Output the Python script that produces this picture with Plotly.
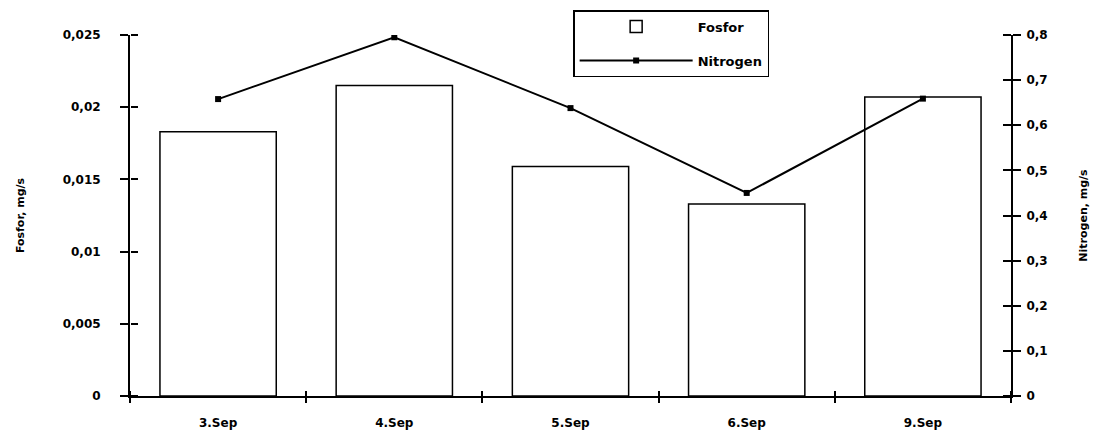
import plotly.graph_objects as go

dates = ["3.Sep", "4.Sep", "5.Sep", "6.Sep", "9.Sep"]
fosfor = [0.0183, 0.0215, 0.0159, 0.0133, 0.0207]
nitrogen = [0.658, 0.795, 0.638, 0.450, 0.659]

left_vals = [0, 0.005, 0.01, 0.015, 0.02, 0.025]
left_text = ["0", "0,005", "0,01", "0,015", "0,02", "0,025"]
right_vals = [0, 0.1, 0.2, 0.3, 0.4, 0.5, 0.6, 0.7, 0.8]
right_text = ["0", "0,1", "0,2", "0,3", "0,4", "0,5", "0,6", "0,7", "0,8"]

FONT = "DejaVu Sans"
tickfont = dict(family=FONT, size=12, color="black", weight="bold")
titlefont = dict(family=FONT, size=11, color="black", weight="bold")

fig = go.Figure()
fig.add_trace(go.Bar(
    x=dates, y=fosfor, name="Fosfor", width=0.66, legendgroup="a",
    marker=dict(color="white", line=dict(color="black", width=1.5)),
    yaxis="y",
))
fig.add_trace(go.Scatter(
    x=dates, y=nitrogen, name="Nitrogen", mode="lines+markers", legendgroup="b",
    line=dict(color="black", width=2),
    marker=dict(symbol="square", size=6, color="black"),
    yaxis="y2",
))
# invisible helper traces so the overlay axes carrying inward ticks get drawn
fig.add_trace(go.Scatter(
    x=dates, y=fosfor, xaxis="x2", yaxis="y3", mode="markers",
    marker=dict(opacity=0), showlegend=False, hoverinfo="skip",
))
fig.add_trace(go.Scatter(
    x=dates, y=nitrogen, xaxis="x2", yaxis="y4", mode="markers",
    marker=dict(opacity=0), showlegend=False, hoverinfo="skip",
))

common_y = dict(showgrid=False, zeroline=False, fixedrange=True)

fig.update_layout(
    width=1082, height=422,
    margin=dict(l=122, r=79, t=27, b=34, autoexpand=False),
    paper_bgcolor="white", plot_bgcolor="white",
    showlegend=True,
    xaxis=dict(
        type="category", range=[-0.5, 4.5], showgrid=False, zeroline=False,
        showline=True, linecolor="black", linewidth=2,
        ticks="outside", ticklen=5, tickwidth=1.5, tickcolor="black",
        tickson="boundaries", tickfont=tickfont, ticklabelstandoff=15,
    ),
    xaxis2=dict(
        type="category", overlaying="x", anchor="free", position=0, side="top",
        range=[-0.5, 4.5], showgrid=False, zeroline=False, showline=False,
        ticks="outside", ticklen=5, tickwidth=1.5, tickcolor="black",
        tickson="boundaries", showticklabels=False,
    ),
    yaxis=dict(
        range=[0, 0.025], tickvals=left_vals, ticktext=left_text,
        showline=True, linecolor="black", linewidth=2,
        ticks="outside", ticklen=8, tickwidth=2, tickcolor="black",
        tickfont=tickfont, ticklabelstandoff=17,
        title=dict(text="Fosfor, mg/s", font=titlefont, standoff=36),
        **common_y,
    ),
    yaxis3=dict(
        range=[0, 0.025], tickvals=left_vals, overlaying="y",
        anchor="free", position=0, side="right",
        showline=False, ticks="outside", ticklen=7, tickwidth=2, tickcolor="black",
        showticklabels=False, **common_y,
    ),
    yaxis2=dict(
        range=[0, 0.8], tickvals=right_vals, ticktext=right_text,
        overlaying="y", side="right", anchor="x",
        showline=True, linecolor="black", linewidth=2,
        ticks="outside", ticklen=8, tickwidth=2, tickcolor="black",
        tickfont=tickfont, ticklabelstandoff=3,
        title=dict(text="Nitrogen, mg/s", font=titlefont, standoff=36),
        **common_y,
    ),
    yaxis4=dict(
        range=[0, 0.8], tickvals=right_vals, overlaying="y",
        anchor="free", position=1, side="left",
        showline=False, ticks="outside", ticklen=8, tickwidth=2, tickcolor="black",
        showticklabels=False, **common_y,
    ),
    legend=dict(
        x=0.503, y=1.069, xanchor="left", yanchor="top",
        bgcolor="white", bordercolor="black", borderwidth=1.5,
        font=dict(family=FONT, size=13, color="black", weight="bold"),
        itemwidth=113, traceorder="grouped", tracegroupgap=14,
    ),
)
fig.write_html("out.html")
